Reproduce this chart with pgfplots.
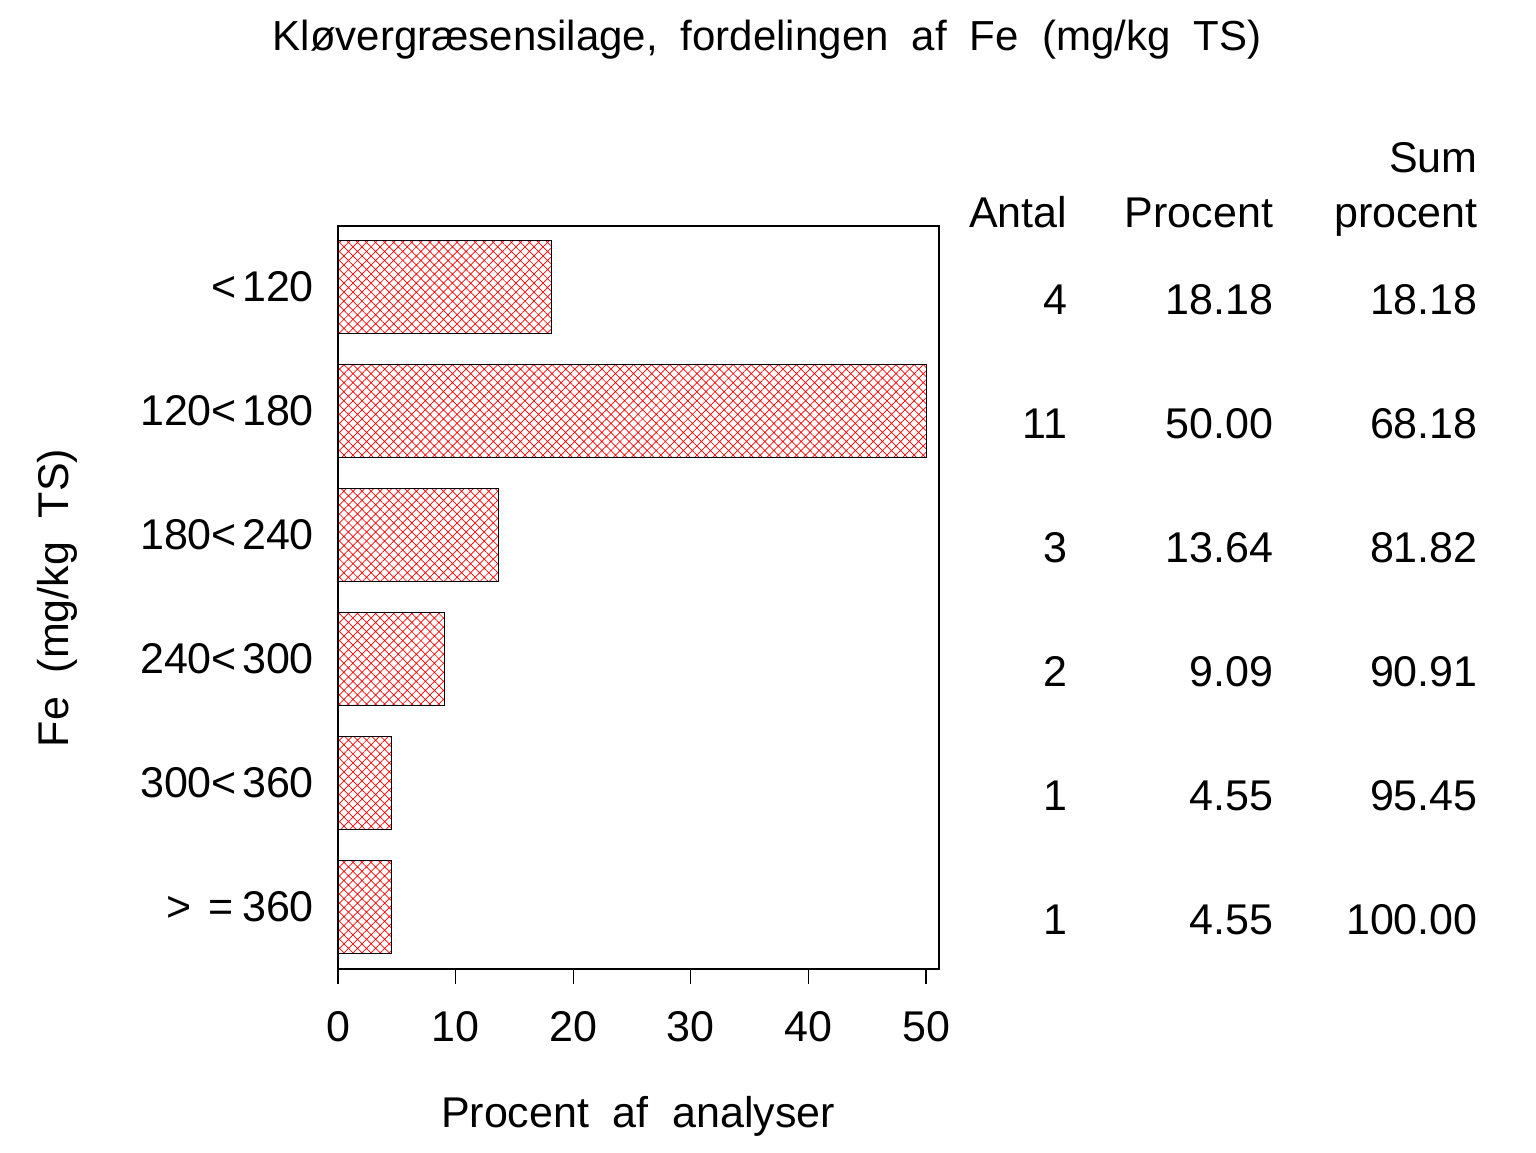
\documentclass[border=0pt]{standalone}
\usepackage{fontspec}
\setmainfont{Liberation Sans}
\usepackage{pgfplots}
\pgfplotsset{compat=1.18}
\usetikzlibrary{patterns.meta}
\newcommand{\ws}{\hspace{0.55em}}
\newcommand{\ns}{\hspace{0.12em}}
\newcommand{\bigf}{\fontsize{21.5}{25}\selectfont}
\tikzset{tab/.style={anchor=base east, font=\bigf}}
\begin{document}
\begin{tikzpicture}
\useasboundingbox (0,0) rectangle (768pt,576pt);
\fill[white] (0,0) rectangle (768pt,576pt);
\begin{axis}[
  at={(169pt,91.5pt)}, anchor=south west,
  scale only axis, width=300.5pt, height=371.5pt,
  xmin=0, xmax=51.1, ymin=-0.49, ymax=5.5, y dir=reverse,
  xbar, bar width=46.5pt,
  axis line style={line width=0.6pt},
  ytick={0,...,5},
  yticklabels={{<\ns120},{120<\ns180},{180<\ns240},{240<\ns300},{300<\ns360},{>\hspace{0.4em}=\hspace{0.2em}360}},
  ytick style={draw=none},
  xtick={0,10,...,50},
  xtick pos=bottom, tick align=outside, major tick length=7.5pt,
  xtick style={line width=0.6pt, black},
  /pgf/number format/assume math mode=true,
  tick label style={font=\bigf},
  xticklabel style={yshift=-10pt},
  yticklabel style={xshift=-1pt},
  clip=false,
]
\addplot[draw=black, line width=0.5pt, pattern={Hatch[angle=45,distance=3.2pt,line width=0.35pt]}, pattern color=red]
  coordinates {(18.18,0) (50.00,1) (13.64,2) (9.09,3) (4.55,4) (4.55,5)};
% table headers
\node[tab, yshift=29.5pt] at (axis cs:62.6,0) {Antal};
\node[tab, yshift=29.5pt] at (axis cs:80.1,0) {Procent};
\node[tab, yshift=57pt] at (axis cs:97.5,0) {Sum};
\node[tab, yshift=29.5pt] at (axis cs:97.5,0) {procent};
% table rows
\node[tab, yshift=-14pt] at (axis cs:62.6,0) {4};
\node[tab, yshift=-14pt] at (axis cs:80.1,0) {18.18};
\node[tab, yshift=-14pt] at (axis cs:97.5,0) {18.18};
\node[tab, yshift=-14pt] at (axis cs:62.6,1) {11};
\node[tab, yshift=-14pt] at (axis cs:80.1,1) {50.00};
\node[tab, yshift=-14pt] at (axis cs:97.5,1) {68.18};
\node[tab, yshift=-14pt] at (axis cs:62.6,2) {3};
\node[tab, yshift=-14pt] at (axis cs:80.1,2) {13.64};
\node[tab, yshift=-14pt] at (axis cs:97.5,2) {81.82};
\node[tab, yshift=-14pt] at (axis cs:62.6,3) {2};
\node[tab, yshift=-14pt] at (axis cs:80.1,3) {9.09};
\node[tab, yshift=-14pt] at (axis cs:97.5,3) {90.91};
\node[tab, yshift=-14pt] at (axis cs:62.6,4) {1};
\node[tab, yshift=-14pt] at (axis cs:80.1,4) {4.55};
\node[tab, yshift=-14pt] at (axis cs:97.5,4) {95.45};
\node[tab, yshift=-14pt] at (axis cs:62.6,5) {1};
\node[tab, yshift=-14pt] at (axis cs:80.1,5) {4.55};
\node[tab, yshift=-14pt] at (axis cs:97.5,5) {100.00};
\end{axis}
\node[font=\bigf] at (319pt,18pt) {Procent\ws af\ws analyser};
\node[font=\bigf, rotate=90] at (28.5pt,277pt) {Fe\ws (mg/kg\ws TS)};
\node[font=\fontsize{21}{25}\selectfont] at (383.5pt,556pt) {Kløvergræsensilage,\ws fordelingen\ws af\ws Fe\ws (mg/kg\ws TS)};
\end{tikzpicture}
\end{document}
